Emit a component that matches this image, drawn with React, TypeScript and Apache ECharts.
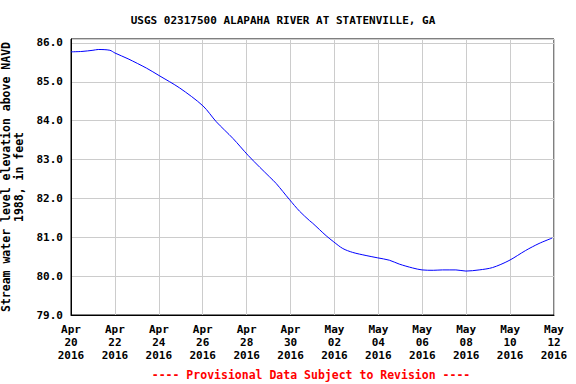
import React, { useEffect, useRef } from "react";
import * as echarts from "echarts";

const TITLE = "USGS 02317500 ALAPAHA RIVER AT STATENVILLE, GA";
const FOOTER = "---- Provisional Data Subject to Revision ----";
const Y_NAME = "Stream water level elevation above NAVD\n1988, in feet";

// x tick labels, one every 2 days starting Apr 20 2016
const xTickLabels = [
  "Apr\n20\n2016", "Apr\n22\n2016", "Apr\n24\n2016", "Apr\n26\n2016",
  "Apr\n28\n2016", "Apr\n30\n2016", "May\n02\n2016", "May\n04\n2016",
  "May\n06\n2016", "May\n08\n2016", "May\n10\n2016", "May\n12\n2016",
];

// days since Apr 20 2016 00:00
const dayOffsets = [
  0.0, 0.5, 1.0, 1.24, 1.77, 2.0, 2.6, 3.44, 4.01, 4.95, 6.01, 6.62, 7.38,
  8.06, 8.6, 9.05, 9.35, 9.95, 10.41, 10.86, 11.01, 11.62, 11.97, 12.38,
  12.83, 13.44, 13.97, 14.5, 14.95, 15.56, 15.99, 16.5, 16.92, 17.53, 17.99,
  18.59, 19.2, 19.95, 20.71, 21.32, 21.92,
];
// stream water level, feet
const levels = [
  85.77, 85.78, 85.81, 85.83, 85.81, 85.74, 85.59, 85.35, 85.16, 84.84, 84.38,
  83.97, 83.54, 83.11, 82.8, 82.55, 82.38, 81.97, 81.67, 81.43, 81.36, 81.04,
  80.88, 80.71, 80.61, 80.53, 80.47, 80.41, 80.31, 80.21, 80.16, 80.15, 80.16,
  80.16, 80.13, 80.16, 80.22, 80.4, 80.66, 80.84, 80.98,
];

const FONT = "DejaVu Sans Mono";

export default function App() {
  const ref = useRef<HTMLDivElement>(null);
  useEffect(() => {
    if (!ref.current) return;
    const chart = echarts.init(ref.current, null, { renderer: "svg" });
    const data = dayOffsets.map((d, i) => [d, levels[i]]);
    chart.setOption({
      animation: false,
      backgroundColor: "#ffffff",
      grid: {
        left: 71,
        right: 22,
        top: 39,
        bottom: 69,
        containLabel: false,
        outerBoundsMode: "none",
        show: true,
        borderColor: "#000000",
        borderWidth: 1,
        backgroundColor: "transparent",
      },
      xAxis: {
        type: "value",
        min: 0,
        max: 22,
        interval: 2,
        axisLine: { show: true, lineStyle: { color: "#000", width: 1 } },
        axisTick: { show: false },
        splitLine: { show: true, lineStyle: { color: "#cccccc", width: 1 } },
        axisLabel: {
          margin: 8,
          fontFamily: FONT,
          fontWeight: "bold",
          fontSize: 11,
          lineHeight: 13,
          color: "#000",
          hideOverlap: false,
          formatter: (v: number) => xTickLabels[Math.round(v / 2)] ?? "",
        },
      },
      yAxis: {
        type: "value",
        min: 79,
        max: 86.1,
        interval: 1,
        name: Y_NAME,
        nameLocation: "middle",
        nameRotate: 90,
        nameGap: 40,
        nameTextStyle: {
          fontFamily: FONT,
          fontWeight: "bold",
          fontSize: 11.5,
          lineHeight: 13,
          color: "#000",
          align: "center",
        },
        axisLine: { show: true, lineStyle: { color: "#000", width: 1 } },
        axisTick: { show: false },
        splitLine: { show: true, lineStyle: { color: "#cccccc", width: 1 } },
        axisLabel: {
          margin: 8,
          fontFamily: FONT,
          fontWeight: "bold",
          fontSize: 11,
          color: "#000",
          showMaxLabel: false,
          formatter: (v: number) => v.toFixed(1),
        },
      },
      series: [
        {
          type: "line",
          data,
          showSymbol: false,
          smooth: 0.3,
          lineStyle: { color: "#0000ff", width: 1 },
          z: 5,
        },
      ],
      graphic: [
        {
          type: "text",
          x: 283,
          y: 20,
          style: {
            text: TITLE,
            fontFamily: FONT,
            fontWeight: "bold",
            fontSize: 11,
            fill: "#000",
            align: "center",
            verticalAlign: "middle",
          },
        },
        {
          type: "text",
          x: 311,
          y: 375,
          style: {
            text: FOOTER,
            fontFamily: FONT,
            fontWeight: "bold",
            fontSize: 11.5,
            fill: "#ff0000",
            align: "center",
            verticalAlign: "middle",
          },
        },
      ],
    });
    return () => chart.dispose();
  }, []);
  return (
    <div
      ref={ref}
      style={{ position: "fixed", left: 0, top: 0, width: 576, height: 384 }}
    />
  );
}
